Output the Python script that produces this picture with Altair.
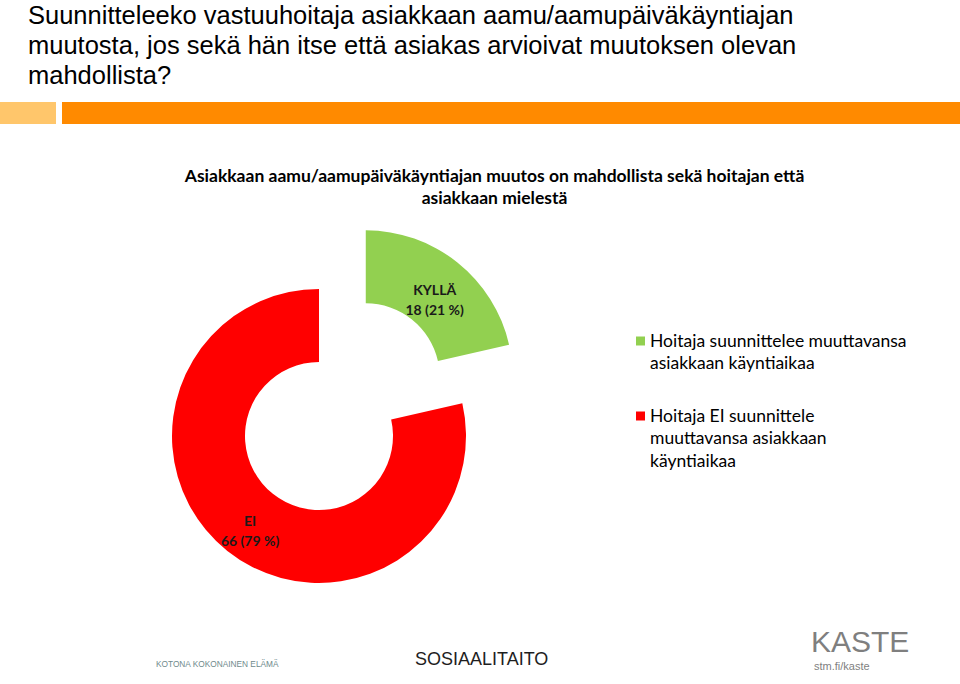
import altair as alt
import pandas as pd

# ---- data ----
categories = ["KYLLÄ", "EI"]
counts = [18, 66]
percents = [21, 79]
colors = ["#92D050", "#FF0000"]
legend_labels = [
    "Hoitaja suunnittelee muuttavansa\nasiakkaan käyntiaikaa",
    "Hoitaja EI suunnittele\nmuuttavansa asiakkaan\nkäyntiaikaa",
]
title_text = ("Suunnitteleeko vastuuhoitaja asiakkaan aamu/aamupäiväkäyntiajan\n"
              "muutosta, jos sekä hän itse että asiakas arvioivat muutoksen olevan\n"
              "mahdollista?")
subtitle_text = ("Asiakkaan aamu/aamupäiväkäyntiajan muutos on mahdollista sekä hoitajan että\n"
                 "asiakkaan mielestä")
logo_texts = ["KOTONA KOKONAINEN ELÄMÄ", "SOSIAALITAITO", "KASTE", "stm.fi/kaste"]

df = pd.DataFrame({
    "cat": categories,
    "count": counts,
    "pct": percents,
    "legend": legend_labels,
    "order": list(range(len(categories))),
})

# ---- layout constants ----
W, H = 960, 684
CX, CY = 319, 436
R_OUT, R_IN = 147, 74
EXPLODE = 75
R_MID = (R_OUT + R_IN) / 2

color = alt.Color("cat:N", scale=alt.Scale(domain=categories, range=colors), legend=None)

base = (
    alt.Chart(df)
    .transform_joinaggregate(total="sum(count)")
    .transform_window(cum="sum(count)", sort=[alt.SortField("order")], frame=[None, 0])
    .transform_calculate(
        start="2*PI*(datum.cum - datum.count)/datum.total",
        end="2*PI*datum.cum/datum.total",
    )
    .transform_calculate(
        mid="(datum.start + datum.end)/2",
        ex=f"datum.cat === 'KYLLÄ' ? {EXPLODE} : 0",
    )
    .transform_calculate(
        cx=f"{CX} + datum.ex*sin(datum.mid)",
        cy=f"{CY} - datum.ex*cos(datum.mid)",
    )
    .transform_calculate(
        lx=f"datum.cx + {R_MID}*sin(datum.mid)",
        ly=f"datum.cy - {R_MID}*cos(datum.mid)",
        label="datum.cat + '\\n' + datum.count + ' (' + datum.pct + ' %)'",
        legy="341 + 75*datum.order",
        legty="346.5 + 75*datum.order",
    )
)

arcs = base.mark_arc(radius=R_OUT, radius2=R_IN).encode(
    theta=alt.Theta("start:Q", scale=None, stack=False),
    theta2="end:Q",
    x=alt.X("cx:Q", scale=None, axis=None),
    y=alt.Y("cy:Q", scale=None, axis=None),
    color=color,
)

labels = base.mark_text(
    font="Lato", fontWeight="bold", fontSize=14, lineBreak="\n",
    baseline="middle", align="center", lineHeight=20, color="#1a1a1a",
).encode(
    x=alt.X("lx:Q", scale=None),
    y=alt.Y("ly:Q", scale=None),
    text="label:N",
)

leg_sq = base.mark_square(size=81, opacity=1).encode(
    x=alt.value(640.5),
    y=alt.Y("legy:Q", scale=None),
    color=color,
)
leg_txt = base.mark_text(
    font="Lato", fontSize=17.5, lineBreak="\n", align="left",
    baseline="alphabetic", lineHeight=22.5, color="#000000",
).encode(
    x=alt.value(650),
    y=alt.Y("legty:Q", scale=None),
    text="legend:N",
)

# ---- title and decorations ----
tdf = pd.DataFrame({"t": [title_text]})
title = alt.Chart(tdf).mark_text(
    font="Liberation Sans", fontSize=25.5, lineBreak="\n", align="left",
    baseline="alphabetic", lineHeight=30, color="#000000",
).encode(x=alt.value(28), y=alt.value(24), text="t:N")

sdf = pd.DataFrame({"t": [subtitle_text]})
subtitle = alt.Chart(sdf).mark_text(
    font="Lato", fontWeight="bold", fontSize=17.5, lineBreak="\n", align="center",
    baseline="alphabetic", lineHeight=22, color="#000000",
).encode(x=alt.value(494.5), y=alt.value(182), text="t:N")

one = pd.DataFrame({"a": [0]})
bar_light = alt.Chart(one).mark_rect(color="#FFC66B").encode(
    x=alt.value(0), x2=alt.value(56), y=alt.value(102), y2=alt.value(124))
bar_dark = alt.Chart(one).mark_rect(color="#FF8A00").encode(
    x=alt.value(62), x2=alt.value(W), y=alt.value(102), y2=alt.value(124))

ldf = pd.DataFrame({"t": logo_texts})
logo1 = alt.Chart(ldf).transform_filter("datum.t === 'KOTONA KOKONAINEN ELÄMÄ'").mark_text(
    font="Liberation Sans", fontSize=8.3, align="left", baseline="alphabetic", color="#6f8a8c",
).encode(x=alt.value(156), y=alt.value(667), text="t:N")
logo2 = alt.Chart(ldf).transform_filter("datum.t === 'SOSIAALITAITO'").mark_text(
    font="Liberation Sans", fontSize=18, align="left", baseline="alphabetic", color="#1e1e1e",
).encode(x=alt.value(415), y=alt.value(665), text="t:N")
logo3 = alt.Chart(ldf).transform_filter("datum.t === 'KASTE'").mark_text(
    font="Liberation Sans", fontSize=30, align="left", baseline="alphabetic", color="#7f7f7f",
).encode(x=alt.value(811), y=alt.value(652), text="t:N")
logo4 = alt.Chart(ldf).transform_filter("datum.t === 'stm.fi/kaste'").mark_text(
    font="Liberation Sans", fontSize=11, align="left", baseline="alphabetic", color="#7f7f7f",
).encode(x=alt.value(814), y=alt.value(670), text="t:N")

chart = alt.layer(
    bar_light, bar_dark, title, subtitle, arcs, labels, leg_sq, leg_txt,
    logo1, logo2, logo3, logo4,
).properties(
    width=W, height=H, padding=0, autosize=alt.AutoSizeParams(type="none"),
    background="white",
).configure_view(stroke=None)

chart.save("out.html", embed_options={"renderer": "svg", "actions": False})
